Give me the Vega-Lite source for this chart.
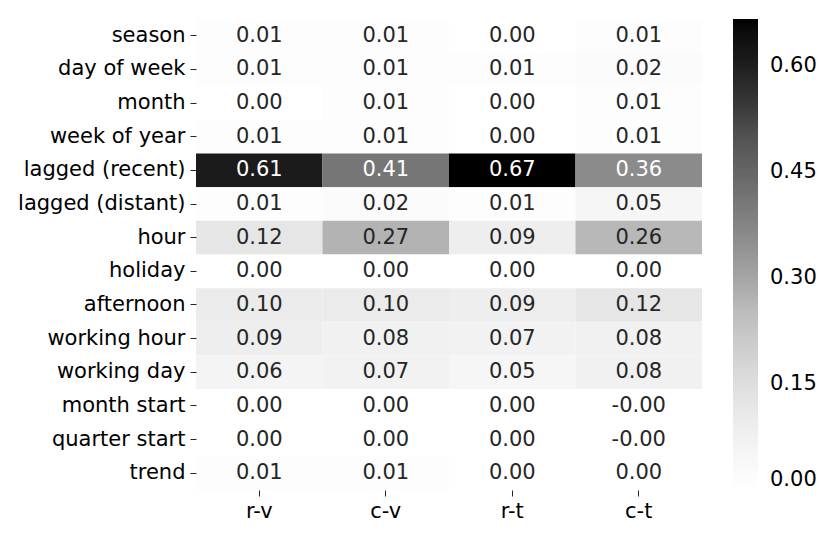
{
  "$schema": "https://vega.github.io/schema/vega-lite/v6.json",
  "autosize": "none",
  "width": 506,
  "height": 471,
  "padding": {"left": 196, "top": 19, "right": 128, "bottom": 47},
  "background": "white",
  "config": {
    "view": {"stroke": null},
    "font": "DejaVu Sans",
    "axis": {"labelFont": "DejaVu Sans", "labelFontSize": 21, "labelColor": "#000000", "tickColor": "#262626", "tickSize": 6, "tickWidth": 1, "domain": false, "grid": false, "title": null},
    "legend": {"labelFont": "DejaVu Sans", "labelFontSize": 21, "labelColor": "#000000"}
  },
  "data": {
    "values": [
      {"feature": "season", "model": "r-v", "value": 0.01, "label": "0.01"},
      {"feature": "season", "model": "c-v", "value": 0.01, "label": "0.01"},
      {"feature": "season", "model": "r-t", "value": 0.0, "label": "0.00"},
      {"feature": "season", "model": "c-t", "value": 0.01, "label": "0.01"},
      {"feature": "day of week", "model": "r-v", "value": 0.01, "label": "0.01"},
      {"feature": "day of week", "model": "c-v", "value": 0.01, "label": "0.01"},
      {"feature": "day of week", "model": "r-t", "value": 0.01, "label": "0.01"},
      {"feature": "day of week", "model": "c-t", "value": 0.02, "label": "0.02"},
      {"feature": "month", "model": "r-v", "value": 0.0, "label": "0.00"},
      {"feature": "month", "model": "c-v", "value": 0.01, "label": "0.01"},
      {"feature": "month", "model": "r-t", "value": 0.0, "label": "0.00"},
      {"feature": "month", "model": "c-t", "value": 0.01, "label": "0.01"},
      {"feature": "week of year", "model": "r-v", "value": 0.01, "label": "0.01"},
      {"feature": "week of year", "model": "c-v", "value": 0.01, "label": "0.01"},
      {"feature": "week of year", "model": "r-t", "value": 0.0, "label": "0.00"},
      {"feature": "week of year", "model": "c-t", "value": 0.01, "label": "0.01"},
      {"feature": "lagged (recent)", "model": "r-v", "value": 0.61, "label": "0.61"},
      {"feature": "lagged (recent)", "model": "c-v", "value": 0.41, "label": "0.41"},
      {"feature": "lagged (recent)", "model": "r-t", "value": 0.666, "label": "0.67"},
      {"feature": "lagged (recent)", "model": "c-t", "value": 0.36, "label": "0.36"},
      {"feature": "lagged (distant)", "model": "r-v", "value": 0.01, "label": "0.01"},
      {"feature": "lagged (distant)", "model": "c-v", "value": 0.02, "label": "0.02"},
      {"feature": "lagged (distant)", "model": "r-t", "value": 0.01, "label": "0.01"},
      {"feature": "lagged (distant)", "model": "c-t", "value": 0.05, "label": "0.05"},
      {"feature": "hour", "model": "r-v", "value": 0.12, "label": "0.12"},
      {"feature": "hour", "model": "c-v", "value": 0.27, "label": "0.27"},
      {"feature": "hour", "model": "r-t", "value": 0.09, "label": "0.09"},
      {"feature": "hour", "model": "c-t", "value": 0.26, "label": "0.26"},
      {"feature": "holiday", "model": "r-v", "value": 0.0, "label": "0.00"},
      {"feature": "holiday", "model": "c-v", "value": 0.0, "label": "0.00"},
      {"feature": "holiday", "model": "r-t", "value": 0.0, "label": "0.00"},
      {"feature": "holiday", "model": "c-t", "value": 0.0, "label": "0.00"},
      {"feature": "afternoon", "model": "r-v", "value": 0.10, "label": "0.10"},
      {"feature": "afternoon", "model": "c-v", "value": 0.10, "label": "0.10"},
      {"feature": "afternoon", "model": "r-t", "value": 0.09, "label": "0.09"},
      {"feature": "afternoon", "model": "c-t", "value": 0.12, "label": "0.12"},
      {"feature": "working hour", "model": "r-v", "value": 0.09, "label": "0.09"},
      {"feature": "working hour", "model": "c-v", "value": 0.08, "label": "0.08"},
      {"feature": "working hour", "model": "r-t", "value": 0.07, "label": "0.07"},
      {"feature": "working hour", "model": "c-t", "value": 0.08, "label": "0.08"},
      {"feature": "working day", "model": "r-v", "value": 0.06, "label": "0.06"},
      {"feature": "working day", "model": "c-v", "value": 0.07, "label": "0.07"},
      {"feature": "working day", "model": "r-t", "value": 0.05, "label": "0.05"},
      {"feature": "working day", "model": "c-t", "value": 0.08, "label": "0.08"},
      {"feature": "month start", "model": "r-v", "value": 0.0, "label": "0.00"},
      {"feature": "month start", "model": "c-v", "value": 0.0, "label": "0.00"},
      {"feature": "month start", "model": "r-t", "value": 0.0, "label": "0.00"},
      {"feature": "month start", "model": "c-t", "value": 0.0, "label": "-0.00"},
      {"feature": "quarter start", "model": "r-v", "value": 0.0, "label": "0.00"},
      {"feature": "quarter start", "model": "c-v", "value": 0.0, "label": "0.00"},
      {"feature": "quarter start", "model": "r-t", "value": 0.0, "label": "0.00"},
      {"feature": "quarter start", "model": "c-t", "value": 0.0, "label": "-0.00"},
      {"feature": "trend", "model": "r-v", "value": 0.01, "label": "0.01"},
      {"feature": "trend", "model": "c-v", "value": 0.01, "label": "0.01"},
      {"feature": "trend", "model": "r-t", "value": 0.0, "label": "0.00"},
      {"feature": "trend", "model": "c-t", "value": 0.0, "label": "0.00"}
    ]
  },
  "encoding": {
    "x": {
      "field": "model", "type": "nominal", "sort": null,
      "scale": {"paddingInner": 0, "paddingOuter": 0},
      "axis": {"orient": "bottom", "labelAngle": 0, "labelPadding": 4}
    },
    "y": {
      "field": "feature", "type": "nominal", "sort": null,
      "scale": {"paddingInner": 0, "paddingOuter": 0},
      "axis": {"labelPadding": 5}
    }
  },
  "layer": [
    {
      "mark": {"type": "rect"},
      "encoding": {
        "color": {
          "field": "value", "type": "quantitative",
          "scale": {
            "domain": [0, 0.0833, 0.1666, 0.25, 0.3333, 0.4166, 0.5, 0.5833, 0.6665],
            "range": ["#ffffff", "#f0f0f0", "#d9d9d9", "#bdbdbd", "#969696", "#737373", "#525252", "#252525", "#000000"],
            "clamp": true
          },
          "legend": {
            "title": null,
            "orient": "none",
            "legendX": 537,
            "legendY": 0,
            "direction": "vertical",
            "gradientLength": 471,
            "gradientThickness": 25,
            "gradientStrokeWidth": 0,
            "values": [0, 0.15, 0.3, 0.45, 0.6],
            "format": ".2f",
            "labelOffset": 12
          }
        }
      }
    },
    {
      "mark": {"type": "text", "fontSize": 21, "font": "DejaVu Sans"},
      "encoding": {
        "text": {"field": "label", "type": "nominal"},
        "color": {
          "condition": {"test": "datum.value > 0.3", "value": "#ffffff"},
          "value": "#262626"
        }
      }
    }
  ]
}
